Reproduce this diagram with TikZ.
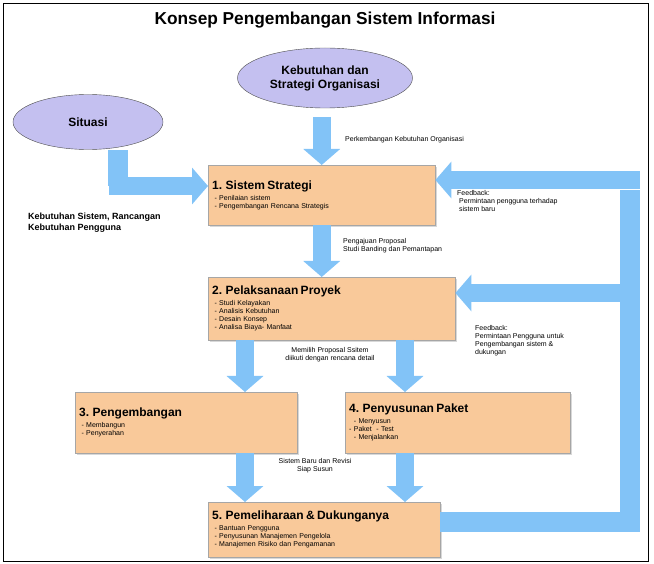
\documentclass[tikz,border=0pt]{standalone}
\usepackage{fontspec}
\setmainfont{Liberation Sans}
\usetikzlibrary{arrows.meta,shapes.geometric,shadows}
\definecolor{boxfill}{HTML}{F9C99A}
\definecolor{flow}{HTML}{82C3F7}
\definecolor{ovalfill}{HTML}{C4C0F0}
\tikzset{
  stagebox/.style={draw=gray!70,fill=boxfill,anchor=north west,inner sep=4pt,align=left,
    font=\scriptsize,drop shadow={shadow xshift=2pt,shadow yshift=-2pt,fill=gray!60}},
  oval/.style={ellipse,draw=black!70,fill=ovalfill,align=center,font=\bfseries\large},
  fat/.style={flow,line width=18pt,-{Triangle[width=36pt,length=16pt]}},
  fatbar/.style={flow,line width=20pt},
  note/.style={font=\scriptsize,align=left,anchor=north west,inner sep=0pt}
}
\newcommand{\stage}[2]{{\large\bfseries #1}\\[3pt]#2}
\begin{document}
\begin{tikzpicture}[x=1pt,y=-1pt]
\useasboundingbox (0,0) rectangle (654,564);
\draw[thick] (3,3) rectangle (648,561);
\node (title) at (325,20) {\LARGE\bfseries Konsep Pengembangan Sistem Informasi};
% ovals
\node[oval,minimum width=175pt,minimum height=60pt] (org) at (325,78) {Kebutuhan dan\\Strategi Organisasi};
\node[oval,minimum width=150pt,minimum height=55pt] (sit) at (88,122) {Situasi};
% stages
\node[stagebox,minimum width=227pt,minimum height=60pt,text width=219pt] (s1) at (208,165)
  {\stage{1. Sistem Strategi}{\ - Penilaian sistem\\\ - Pengembangan Rencana Strategis}};
\node[stagebox,minimum width=247pt,minimum height=63pt,text width=239pt] (s2) at (208,277)
  {\stage{2. Pelaksanaan Proyek}{\ - Studi Kelayakan\\\ - Analisis Kebutuhan\\\ - Desain Konsep\\\ - Analisa Biaya- Manfaat}};
\node[stagebox,minimum width=222pt,minimum height=61pt,text width=214pt] (s3) at (75,392)
  {\stage{3. Pengembangan}{\ - Membangun\\\ - Penyerahan}};
\node[stagebox,minimum width=225pt,minimum height=61pt,text width=217pt] (s4) at (345,392)
  {\stage{4. Penyusunan Paket}{\ \ - Menyusun\\- Paket \ - Test\\\ \ - Menjalankan}};
\node[stagebox,minimum width=232pt,minimum height=55pt,text width=224pt] (s5) at (208,502)
  {\stage{5. Pemeliharaan \& Dukunganya}{\ - Bantuan Pengguna\\\ - Penyusunan Manajemen Pengelola\\\ - Manajemen Risiko dan Pengamanan}};
% flows
\coordinate (sitdown) at (118,150);
\coordinate (sitturn) at (118,186);
\draw[fatbar] (sitdown) -- (sitturn);
\draw[fat] ([xshift=-9pt]sitturn) -- (s1.west |- sitturn);
\draw[fat] (s1.north |- 0,117) -- (s1.north);
\draw[fat] (s1.south) -- (s1.south |- s2.north);
\draw[fat] (245,340) -- (245,392);
\draw[fat] (405,340) -- (405,392);
\draw[fat] (245,453) -- (245,502);
\draw[fat] (405,453) -- (405,502);
% feedback loop
\coordinate (fbout) at (440,522);
\coordinate (fbcorner) at (630,522);
\coordinate (fbtop) at (630,180);
\draw[fatbar] (fbout) -- ([xshift=10pt]fbcorner) ;
\draw[fatbar] ([yshift=10pt]fbcorner) -- ([yshift=-10pt]fbtop);
\draw[fat] ([xshift=10pt]fbtop) -- (s1.east |- fbtop);
\draw[fat] (621,293) -- (s2.east |- 0,293);
% labels
\node[note] (l1) at (345,136) {Perkembangan Kebutuhan Organisasi};
\node[note,font=\small\bfseries] (l2) at (28,213) {Kebutuhan Sistem, Rancangan\\Kebutuhan Pengguna};
\node[note] (l3) at (457,190) {Feedback:\\\ Permintaan pengguna terhadap\\\ sistem baru};
\node[note] (l4) at (343,238) {Pengajuan Proposal\\Studi Banding dan Pemantapan};
\node[note] (l5) at (475,325) {Feedback:\\Permintaan Pengguna untuk\\Pengembangan sistem \&\\dukungan};
\node[font=\scriptsize,align=center] (l6) at (330,355) {Memilih Proposal Ssitem\\diikuti dengan rencana detail};
\node[font=\scriptsize,align=center] (l7) at (315,466) {Sistem Baru dan Revisi\\Siap Susun};
\end{tikzpicture}
\end{document}
